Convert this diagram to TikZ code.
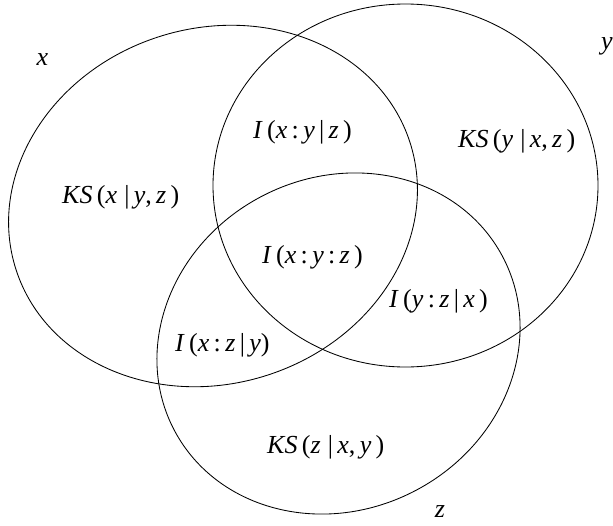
\documentclass[tikz,border=0pt]{standalone}
\usepackage{fontspec}
\setmainfont{Liberation Serif}
\begin{document}
\begin{tikzpicture}[x=1pt,y=-1pt,
  set/.style={draw=black,line width=0.85pt},
  lbl/.style={font=\fontsize{26}{29}\selectfont,inner sep=0pt,anchor=base west},
  nm/.style={font=\fontsize{26}{29}\selectfont,inner sep=0pt}]
\useasboundingbox (0,0) rectangle (613,525);
\draw[set,rotate around={18:(213,206)}] (213,206) ellipse [x radius=207pt, y radius=177.7pt];
\draw[set] (405.5,185.5) ellipse [x radius=192.5pt, y radius=181.5pt];
\draw[set,rotate around={28:(338.5,343.5)}] (338.5,343.5) ellipse [x radius=185.7pt, y radius=166pt];
\newcommand{\vb}{\,|\,}
\newcommand{\cl}{\,:\,}
\node[nm] (lx) at (42.5,60) {\textit{x}};
\node[nm] (ly) at (607,46) {\textit{y}};
\node[nm] (lz) at (440,512) {\textit{z}};
\node[lbl] (ixyz) at (253,138) {\textit{I}\,(\textit{x}\cl\textit{y}\vb\textit{z}\,)};
\node[lbl] (ksy) at (458,147) {\textit{KS}\,(\textit{y}\;|\,\textit{x},\,\textit{z}\,)};
\node[lbl] (ksx) at (62,203) {\textit{KS}\,(\textit{x}\;|\,\textit{y},\,\textit{z}\,)};
\node[lbl] (ixyz3) at (262,263) {\textit{I}\,(\textit{x}\cl\textit{y}\cl\textit{z}\,)};
\node[lbl] (iyzx) at (389,307) {\textit{I}\,(\textit{y}\cl\textit{z}\vb\textit{x}\,)};
\node[lbl] (ixzy) at (175,351) {\textit{I}\,(\textit{x}\cl\textit{z}\vb\textit{y})};
\node[lbl] (ksz) at (267,453) {\textit{KS}\,(\textit{z}\;|\,\textit{x},\,\textit{y}\,)};
\end{tikzpicture}
\end{document}
